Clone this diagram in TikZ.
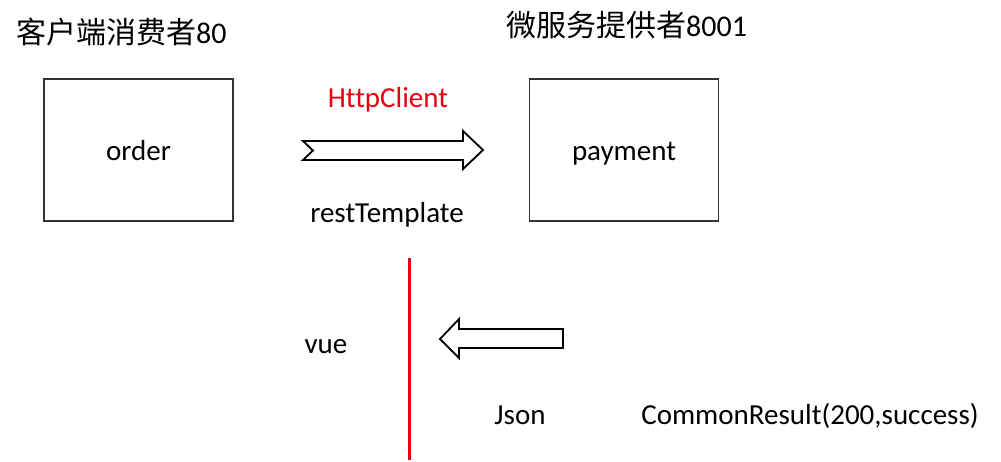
\documentclass[tikz,border=0pt]{standalone}
\usepackage{fontspec}
\setmainfont[Ligatures=NoCommon]{Carlito}
\newfontfamily\cjk{Noto Sans CJK SC}
\definecolor{callred}{RGB}{232,0,16}
\tikzset{
  lbl/.style={inner sep=0pt, anchor=base, font=\fontsize{29}{34}\selectfont},
  ttl/.style={inner sep=0pt, anchor=base west, font=\fontsize{30}{36}\selectfont},
  svc/.style={draw=black!80, line width=1.6pt, minimum width=189pt, minimum height=142pt,
    text height=20pt, text depth=0pt, inner sep=0pt, font=\fontsize{29}{34}\selectfont},
  blockarrow/.style={draw=black, line width=1.8pt, fill=white, line join=miter}
}

\begin{document}
\begin{tikzpicture}[x=1pt, y=-1pt]
\useasboundingbox (0,0) rectangle (1001,461);
\node[ttl] (consumer) at (16,43) {{\cjk 客户端消费者}80};
\node[ttl] (provider) at (506,36) {{\cjk 微服务提供者}8001};
\node[svc] (order) at (138.5,150) {order};
\node[svc] (payment) at (624,150) {payment};
\node[lbl, text=callred] (http) at (388,107) {HttpClient};
\node[lbl] (rest) at (387,222) {restTemplate};
\node[lbl] (vue) at (326,353) {vue};
\node[lbl] (json) at (520,424) {Json};
\node[lbl] (result) at (810,424) {CommonResult(200,success)};
% request arrow
\draw[blockarrow] (303,141) -- (463,141) -- (463,131) -- (483,150) -- (463,169)
  -- (463,160) -- (303,160) -- (313,150.5) -- cycle;
% response arrow
\draw[blockarrow] (440,339) -- (459,319) -- (459,329) -- (563,329) -- (563,348)
  -- (459,348) -- (459,358) -- cycle;
% split line
\coordinate (splittop) at (409,258);
\coordinate (splitbot) at (409,460);
\draw[callred, line width=3pt] (splittop) -- (splitbot);
\end{tikzpicture}
\end{document}
